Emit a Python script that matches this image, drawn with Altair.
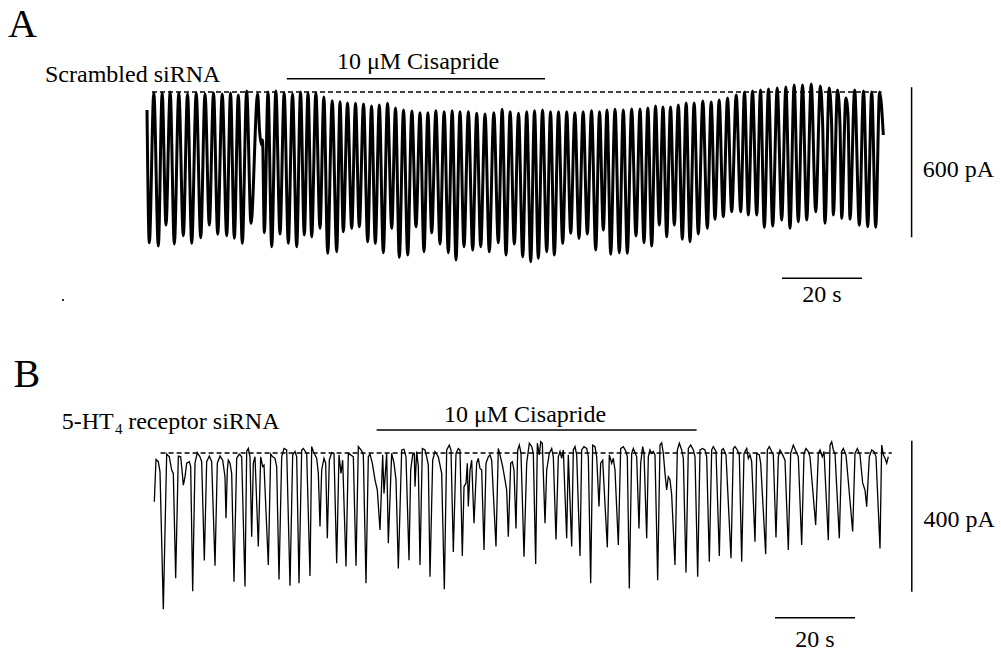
import altair as alt
import pandas as pd

FONT = "Liberation Serif"

# ---------------- Panel A (scrambled siRNA) ----------------
# time of each inward-current trough (s) and its amplitude (pA, 0 = dashed baseline)
A_trough_t = [
    0.33, 2.58, 4.5, 6.58, 8.83, 10.93, 13.18, 15.33, 17.43, 19.68,
    21.58, 23.58, 25.75, 29.08, 30.93, 33.0, 35.08, 37.18, 39.08, 40.93,
    43.0, 44.93, 47.18, 48.83, 50.93, 52.83, 54.93, 56.83, 58.83, 60.93,
    62.83, 64.93, 67.0, 69.0, 70.93, 73.0, 75.08, 77.0, 79.0, 81.18,
    83.18, 85.33, 87.58, 89.5, 91.58, 93.68, 95.68, 97.58, 99.68, 101.58,
    103.68, 105.68, 107.75, 109.83, 111.93, 113.83, 115.68, 117.83, 119.83, 122.0,
    124.0, 125.93, 127.83, 129.68, 131.58, 133.58, 135.5, 137.58, 139.83, 141.75,
    143.83, 145.93, 148.18, 150.08, 152.18, 154.08, 156.18, 158.43, 160.5, 162.58,
    164.68, 166.93, 169.25, 171.33, 173.43, 175.5, 177.83, 179.93, 181.93,
]
A_trough_i = [
    -603, -616, -532, -608, -575, -605, -583, -532, -569, -575,
    -585, -605, -525, -563, -619, -568, -605, -619, -572, -579,
    -545, -645, -639, -559, -545, -539, -599, -605, -643, -545,
    -661, -652, -539, -639, -563, -608, -643, -672, -619, -632,
    -619, -639, -603, -652, -608, -659, -679, -665, -639, -652,
    -605, -565, -585, -568, -632, -552, -649, -643, -645, -576,
    -603, -616, -532, -579, -532, -589, -599, -568, -545, -509,
    -499, -479, -479, -492, -492, -541, -536, -512, -545, -519,
    -512, -479, -525, -492, -505, -509, -533, -539, -541,
]
# crest level following each trough (pA)
A_crest_i = [
    -4, -4, 0, -4, -8, -4, -8, -4, -8, -4,
    -12, 4, -8, 0, 4, -4, -8, 0, -4, -4,
    -20, -35, -39, -44, -45, -48, -56, -52, -45, -64,
    -72, -76, -83, -83, -75, -79, -75, -79, -79, -85,
    -88, -83, -69, -79, -85, -79, -75, -72, -79, -79,
    -79, -83, -79, -75, -79, -72, -69, -72, -68, -68,
    -64, -56, -60, -60, -52, -44, -44, -36, -40, -32,
    -24, -12, 0, 4, 8, 12, 16, 20, 28, 28,
    32, 24, 16, 8, -24, 8, 4, 0, 0,
]
A_last_crest_t = 182.9
A_start = (-0.25, -72)
A_end = (183.83, -172)
# shoulders / notches on the rising phase
A_extra = [(27.88, -152), (28.38, -212), (28.63, -192),
           (168.63, -112), (170.88, -112), (173.0, -132), (175.0, -92)]

# ---------------- Panel B (5-HT4 receptor siRNA) ----------------
B_trace = [
    (-0.17, -129), (0.25, -17), (0.83, -23), (1.25, -50), (2.08, -414),
    (2.92, -3), (3.58, -10), (4.17, -45), (4.58, -54), (5.17, -332),
    (5.83, -8), (6.42, -10), (6.83, -54), (7.08, -85), (7.5, -63), (7.92, -27), (8.58, -23), (8.92, -36), (9.42, -366),
    (10.0, -27), (10.58, 1), (11.25, -10), (11.67, -23), (12.33, -285),
    (12.92, -23), (13.58, -8), (14.17, -23), (15.0, -299),
    (15.58, -27), (16.25, -8), (16.92, -19), (17.5, -63), (17.75, -173), (18.08, -45), (18.33, -19), (18.75, -27), (19.17, -54), (19.75, -341),
    (20.42, -14), (21.08, -3), (21.67, -10), (22.5, -354),
    (22.92, 4), (23.33, 12), (23.75, -10), (24.17, -222),
    (24.58, -27), (25.0, -10), (25.83, -248),
    (26.42, -10), (26.92, -36), (27.25, -32), (28.33, -297),
    (28.92, -3), (29.42, -10), (30.0, -14), (30.42, -36), (31.0, -335),
    (31.67, -10), (32.25, 12), (32.92, 8), (33.75, -352),
    (34.42, -5), (35.0, 4), (35.42, -10), (36.0, -345),
    (36.67, 8), (37.08, 12), (37.92, -1), (38.75, -326),
    (39.17, 17), (39.58, 4), (40.42, -14), (40.83, -54), (41.25, -195),
    (41.67, -45), (42.25, -14), (42.67, -27), (43.08, -226),
    (43.58, -19), (44.17, 1), (44.75, -1), (45.42, -292),
    (46.0, -5), (46.5, -54), (46.92, -19), (47.75, -301),
    (48.33, -1), (48.92, -5), (49.58, -10), (50.25, -299),
    (50.83, 17), (51.67, 6), (52.08, -5), (52.75, -345),
    (53.33, -10), (53.75, -3), (54.33, -27), (55.0, -71), (55.58, -98), (56.08, -177), (56.25, -204),
    (56.92, -5), (57.25, -107), (57.92, -1), (58.33, -239),
    (59.17, -1), (59.75, -27), (60.25, -71), (60.83, -306),
    (61.67, 8), (62.25, 10), (62.75, -10), (63.5, -284),
    (63.92, -45), (64.42, -5), (64.83, -1), (65.0, -89), (65.42, 4), (65.83, -36), (66.25, -297),
    (66.83, 12), (67.5, 8), (67.92, -10), (68.33, -32), (68.75, -328),
    (69.42, -19), (70.0, 4), (70.83, -10), (71.67, -54), (72.33, -361),
    (72.92, 8), (73.58, 21), (74.0, 8), (74.58, -262),
    (75.25, -1), (75.83, 12), (76.25, 8), (76.83, -273),
    (77.25, -89), (77.75, -80), (78.08, -27), (78.33, -142), (78.75, -45), (79.17, -19), (79.75, -186),
    (80.42, -27), (80.83, -14), (81.25, -41), (81.67, -45), (82.25, -257),
    (82.75, -27), (83.33, -10), (83.75, -5), (84.17, -19), (85.25, -248),
    (85.83, 12), (86.25, -5), (86.92, -36), (87.5, -71), (87.92, -98), (88.33, -222),
    (88.92, -27), (89.33, -23), (89.75, -45), (90.25, -200),
    (90.67, 8), (91.08, 21), (91.5, -1), (92.25, -275),
    (92.92, -27), (93.58, 26), (94.17, 17), (94.58, -1), (95.17, -294),
    (95.58, 26), (96.08, -5), (96.42, 30), (96.83, 26), (97.5, -186),
    (97.92, -45), (98.58, -1), (99.17, 12), (99.58, -10), (100.25, -229),
    (100.83, -10), (101.25, 4), (101.67, -14), (102.08, 8), (102.92, -226),
    (103.33, -5), (104.17, -248),
    (104.58, 8), (105.0, 17), (105.42, -5), (106.25, -273),
    (106.67, 8), (107.25, 17), (107.92, 12), (108.33, -10), (108.92, -345),
    (109.42, 21), (110.0, 17), (110.42, -10), (111.0, -142), (111.42, -27), (111.92, -19), (113.08, -250),
    (113.58, -5), (114.17, -27), (114.58, -14), (115.0, -45), (115.83, -244),
    (116.42, 12), (117.08, 17), (117.75, 4), (118.08, -10), (118.58, -359),
    (119.17, -1), (119.58, 12), (120.42, -10), (121.0, -200),
    (121.42, -27), (121.92, 17), (122.25, -1), (122.92, -226),
    (123.33, -10), (123.75, 8), (124.17, -1), (124.58, 4), (125.0, -5), (125.67, -337),
    (126.25, 21), (126.67, 27), (127.08, -1), (127.5, -54), (127.92, -98), (128.33, -63), (128.75, -71), (129.17, -111), (130.0, -297),
    (130.58, 8), (131.08, 26), (131.67, 8), (132.08, -14), (132.75, -317),
    (133.33, 12), (133.92, 21), (134.58, 8), (135.0, -10), (135.67, -328),
    (136.25, 8), (136.92, 12), (137.5, 8), (137.92, -10), (138.58, -288),
    (139.17, 8), (139.58, 17), (140.25, 4), (141.08, -273),
    (141.67, 8), (142.08, 12), (142.75, -5), (144.0, -279),
    (144.58, 12), (145.0, 17), (145.58, 8), (146.08, -5), (146.67, -288),
    (147.25, -1), (147.92, 12), (148.33, -14), (148.75, -5), (149.17, -23), (150.0, -235),
    (150.42, -1), (151.08, -5), (151.42, -27), (152.67, -268),
    (153.08, 8), (153.58, 17), (154.17, 4), (154.58, -5), (155.25, -224),
    (155.83, -10), (156.25, 8), (156.92, -5), (157.5, -19), (158.33, -257),
    (158.92, -1), (159.58, 21), (160.25, 4), (160.83, -10), (161.67, -244),
    (162.25, -1), (162.75, 12), (163.33, 4), (163.75, -10), (165.17, -191),
    (165.83, -1), (166.25, 8), (166.83, -10), (167.25, 4), (168.33, -231),
    (168.75, 21), (169.17, 30), (169.58, 8), (170.0, -1), (171.08, -226),
    (171.67, 4), (172.08, 12), (172.75, -5), (174.42, -208),
    (175.0, -1), (175.58, 12), (176.25, -5), (176.92, -80), (177.5, -98), (177.92, -142),
    (178.58, -10), (179.17, 8), (179.75, 4), (180.25, -10), (181.25, -253),
    (181.67, 21), (182.08, -5), (182.5, -14), (182.92, -27), (183.33, -10),
]

# ---------------- build tables ----------------
rowsA = [A_start]
for k in range(len(A_trough_t)):
    rowsA.append((A_trough_t[k], A_trough_i[k]))
    ct = (A_trough_t[k] + A_trough_t[k + 1]) / 2 if k + 1 < len(A_trough_t) else A_last_crest_t
    rowsA.append((ct, A_crest_i[k]))
rowsA.append(A_end)
rowsA += A_extra
rowsA.sort()
dfA = pd.DataFrame(rowsA, columns=["t", "i"])
dfB = pd.DataFrame(sorted(B_trace), columns=["t", "i"])

W = 1001
HA, HB = 326, 327
xA = alt.Scale(domain=[-37, 213.25], nice=False, zero=False)
yA = alt.Scale(domain=[-936, 368], nice=False, zero=False)
xB = alt.Scale(domain=[-38.75, 211.5], nice=False, zero=False)
yB = alt.Scale(domain=[-530, 336.6], nice=False, zero=False)


def panel(df, xs, ys, trace_w, interp, dash, bars, texts, dots, h):
    X = lambda f: alt.X(f, type="quantitative", scale=xs, axis=None)
    Y = lambda f: alt.Y(f, type="quantitative", scale=ys, axis=None)
    trace = alt.Chart(df).mark_line(color="black", strokeWidth=trace_w, interpolate=interp).encode(
        x=X("t"), y=Y("i"), order=alt.Order("t:Q"))
    dash_df = pd.DataFrame([dash], columns=["x", "x2", "y"])
    dashed = alt.Chart(dash_df).mark_rule(color="black", strokeWidth=1.3, strokeDash=[5, 3]).encode(
        x=X("x"), x2="x2", y=Y("y"))
    bar_df = pd.DataFrame(bars, columns=["x", "x2", "y", "y2"])
    bar_rules = alt.Chart(bar_df).mark_rule(color="black", strokeWidth=1.5).encode(
        x=X("x"), x2="x2", y=Y("y"), y2="y2")
    layers = [trace, dashed, bar_rules]
    for (tx, ty, label, size, align) in texts:
        tdf = pd.DataFrame({"x": [tx], "y": [ty], "label": [label]})
        layers.append(alt.Chart(tdf).mark_text(font=FONT, fontSize=size, align=align,
                                                baseline="alphabetic", color="black").encode(
            x=X("x"), y=Y("y"), text="label:N"))
    if dots:
        ddf = pd.DataFrame(dots, columns=["x", "y"])
        layers.append(alt.Chart(ddf).mark_circle(color="black", size=5, opacity=1).encode(x=X("x"), y=Y("y")))
    return alt.layer(*layers).properties(width=W, height=h)


# annotation geometry (data units: s, pA)
A_bars = [
    (34.7, 99.25, 53, 53),       # cisapride application
    (190.9, 190.9, -581, 19),    # 600 pA calibration
    (158.5, 178.5, -745, -745),  # 20 s calibration
]
A_texts = [
    (-35.0, 222, "A", 40, "left"),
    (-25.75, 41, "Scrambled siRNA", 24, "left"),
    (67.5, 91, "10 μM Cisapride", 24, "center"),
    (193.7, -339, "600 pA", 24, "left"),
    (168.5, -839, "20 s", 24, "center"),
]
B_bars = [
    (55.4, 135.4, 61, 61),
    (189.2, 189.2, -367.6, 32.6),
    (155.0, 175.0, -436.5, -436.5),
]
B_texts = [
    (-35.4, 175.7, "B", 40, "left"),
    (-23.3, 62.8, "5-HT", 24, "left"),
    (-10.0, 50, "4", 15, "left"),
    (-6.7, 62.8, "receptor siRNA", 24, "left"),
    (92.5, 82, "10 μM Cisapride", 24, "center"),
    (192.1, -195, "400 pA", 24, "left"),
    (165.0, -513, "20 s", 24, "center"),
]

pA = panel(dfA, xA, yA, 3, "monotone", (1.0, 183.4, 0), A_bars, A_texts, [(-21.25, -832)], HA)
pB = panel(dfB, xB, yB, 1.3, "linear", (1.4, 184.2, 0), B_bars, B_texts, [], HB)

chart = alt.vconcat(pA, pB, spacing=0).properties(
    padding=0, background="white"
).configure_view(stroke=None)

chart.save("out.html", embed_options={"renderer": "svg", "actions": False})
